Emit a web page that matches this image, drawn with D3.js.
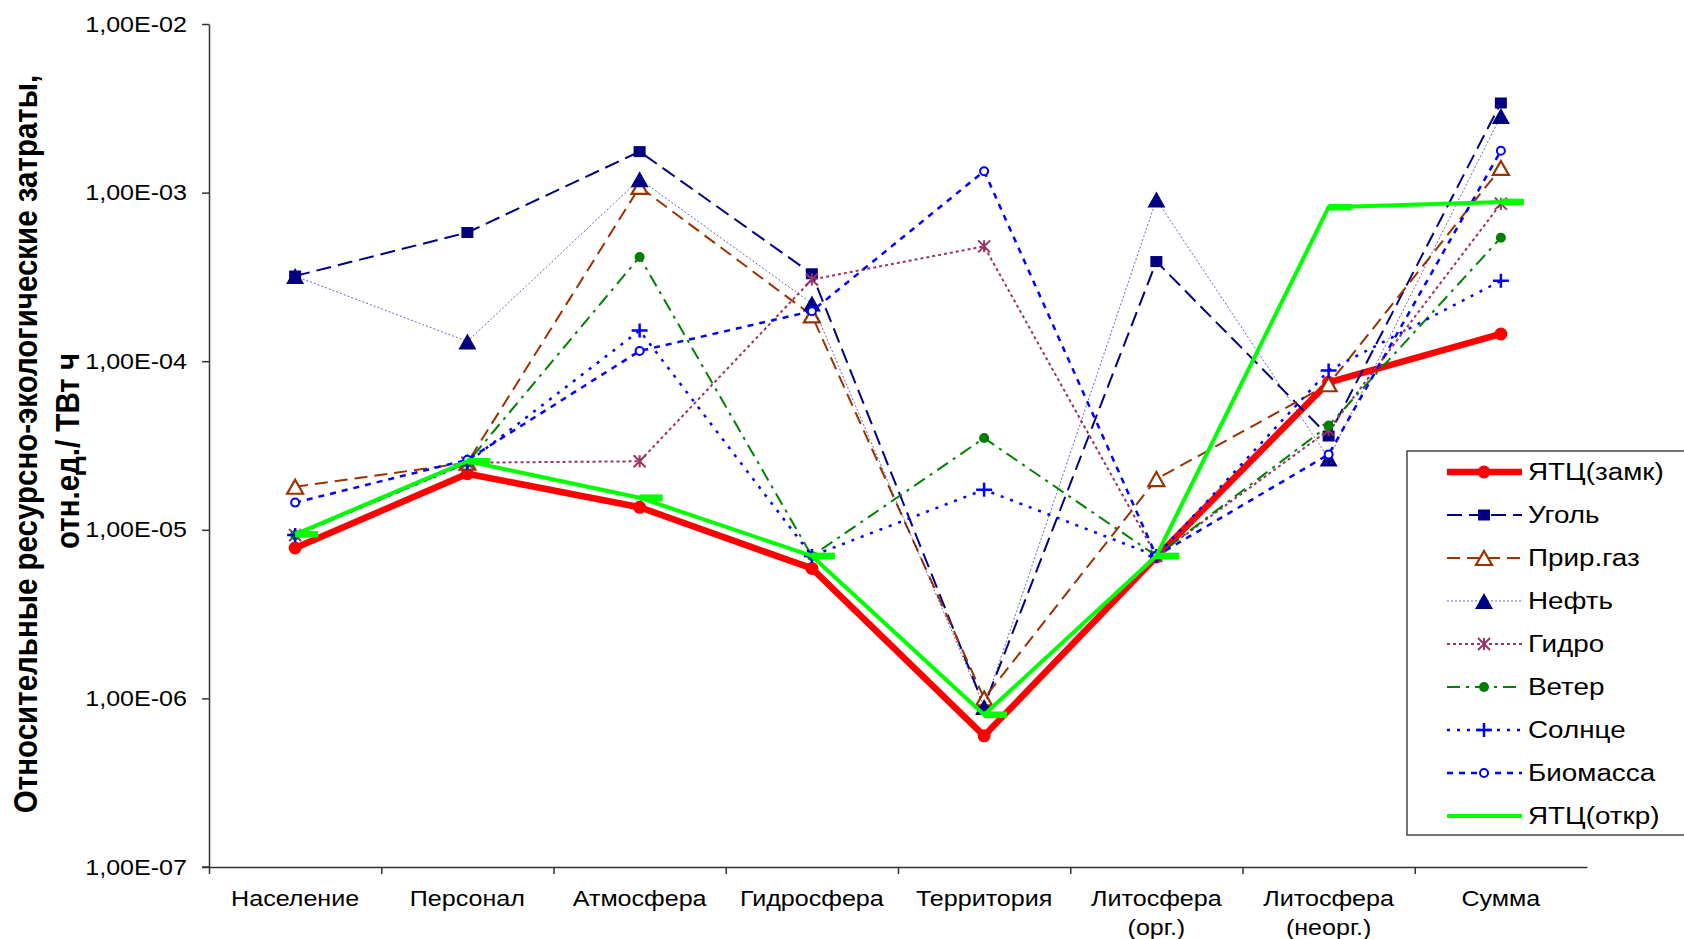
<!DOCTYPE html>
<html><head><meta charset="utf-8">
<script src="https://cdn.jsdelivr.net/npm/d3@7"></script>
<style>
html,body{margin:0;padding:0;background:#fff;}
svg{display:block;font-family:"Liberation Sans",Arial,sans-serif;}
</style></head>
<body>
<svg id="c" width="1684" height="939"></svg>
<script>
const categories = ["Население","Персонал","Атмосфера","Гидросфера","Территория","Литосфера\n(орг.)","Литосфера\n(неорг.)","Сумма"];
const ytcClosed = [7.8e-6, 2.15e-5, 1.36e-5, 5.9e-6, 6.0e-7, 6.9e-6, 7.5e-5, 1.45e-4];
const coal      = [3.2e-4, 5.8e-4, 1.75e-3, 3.3e-4, 9.0e-7, 3.9e-4, 3.6e-5, 3.4e-3];
const gas       = [1.8e-5, 2.5e-5, 1.08e-3, 1.87e-4, 1.0e-6, 2.0e-5, 7.3e-5, 1.4e-3];
const oil       = [3.2e-4, 1.31e-4, 1.2e-3, 2.2e-4, 8.9e-7, 9.1e-4, 2.65e-5, 2.85e-3];
const hydro     = [9.3e-6, 2.5e-5, 2.55e-5, 3.05e-4, 4.8e-4, 7.0e-6, 3.9e-5, 8.6e-4];
const wind      = [9.3e-6, 2.5e-5, 4.15e-4, 7.0e-6, 3.5e-5, 7.0e-6, 4.15e-5, 5.4e-4];
const sun       = [9.3e-6, 2.5e-5, 1.52e-4, 7.0e-6, 1.73e-5, 7.0e-6, 8.8e-5, 3.0e-4];
const biomass   = [1.45e-5, 2.6e-5, 1.15e-4, 1.98e-4, 1.34e-3, 7.0e-6, 2.8e-5, 1.77e-3];
const ytcOpen   = [9.4e-6, 2.55e-5, 1.55e-5, 7.0e-6, 8.0e-7, 7.0e-6, 8.2e-4, 8.8e-4];
const seriesNames = ["ЯТЦ(замк)","Уголь","Прир.газ","Нефть","Гидро","Ветер","Солнце","Биомасса","ЯТЦ(откр)"];
const yTickValues = [1e-7, 1e-6, 1e-5, 1e-4, 1e-3, 1e-2];
const yTitle1 = "Относительные ресурсно-экологические затраты,";
const yTitle2 = "отн.ед./ ТВт ч";

const SX = 1.14; // horizontal stretch of the original rendering
const L = 209, R = 1587, T = 24, B = 867;
const svg = d3.select("#c");

const x = d3.scaleBand().domain(categories).range([L, R]);
const xc = c => x(c) + x.bandwidth() / 2;
const xi = d3.scaleLinear().domain([0, categories.length]).range([L, R]);
const y = d3.scaleLog().domain([1e-7, 1e-2]).range([B, T]);

// Y axis
const yAxis = svg.append("g").attr("transform", `translate(${L},0)`)
  .call(d3.axisLeft(y).tickValues(yTickValues).tickSize(7).tickSizeOuter(0)
    .tickFormat(d => "1,00E-" + String(Math.round(-Math.log10(d))).padStart(2, "0")));
yAxis.select(".domain").attr("stroke", "#333").attr("stroke-width", 1.5);
yAxis.selectAll(".tick line").attr("stroke", "#333").attr("stroke-width", 1.5);
yAxis.selectAll(".tick text").attr("font-size", 22).attr("fill", "#000")
  .attr("font-family", "Liberation Sans, Arial, sans-serif")
  .attr("x", -22 / SX).attr("transform", `scale(${SX},1)`);

// X axis: boundary ticks
const xTicks = svg.append("g").attr("transform", `translate(0,${B})`)
  .call(d3.axisBottom(xi).tickValues(d3.range(0, categories.length)).tickSize(7).tickSizeOuter(0).tickFormat(""));
xTicks.select(".domain").attr("stroke", "#333").attr("stroke-width", 1.5);
xTicks.selectAll(".tick line").attr("stroke", "#333").attr("stroke-width", 1.5);
svg.append("line").attr("x1", L - 7).attr("x2", L).attr("y1", B).attr("y2", B).attr("stroke", "#333").attr("stroke-width", 1.5);

// X labels
const xLab = svg.append("g").attr("transform", `translate(0,${B})`)
  .call(d3.axisBottom(x).tickSize(0).tickFormat(""));
xLab.select(".domain").remove();
xLab.selectAll(".tick").each(function(d) {
  const t = d3.select(this).append("text").attr("transform", `scale(${SX},1)`)
    .attr("text-anchor", "middle").attr("font-size", 22).attr("fill", "#000");
  d.split("\n").forEach((s, i) => t.append("tspan").attr("x", 0).attr("y", 39 + i * 29).text(s));
});

// Y title
svg.append("g").attr("transform", `translate(37,444) scale(${SX},1) rotate(-90)`)
  .append("text").attr("text-anchor", "middle").attr("font-weight", "bold").attr("font-size", 29.5).text(yTitle1);
svg.append("g").attr("transform", `translate(79,451) scale(${SX},1) rotate(-90)`)
  .append("text").attr("text-anchor", "middle").attr("font-weight", "bold").attr("font-size", 29.5).text(yTitle2);

// marker drawers
function mk(kind, g, cx, cy, color) {
  switch (kind) {
    case "circle": g.append("circle").attr("cx", cx).attr("cy", cy).attr("r", 6.5).attr("fill", color); break;
    case "square": g.append("rect").attr("x", cx - 6).attr("y", cy - 5.5).attr("width", 12).attr("height", 11).attr("fill", color); break;
    case "otri": g.append("path").attr("d", `M${cx},${cy-7}L${cx+8},${cy+7}L${cx-8},${cy+7}Z`).attr("fill", "#fff").attr("stroke", color).attr("stroke-width", 2.2); break;
    case "tri": g.append("path").attr("d", `M${cx},${cy-8}L${cx+9},${cy+8}L${cx-9},${cy+8}Z`).attr("fill", color); break;
    case "star": g.append("path").attr("d", `M${cx-6},${cy-6}L${cx+6},${cy+6}M${cx-6},${cy+6}L${cx+6},${cy-6}M${cx},${cy-6}L${cx},${cy+6}`).attr("stroke", color).attr("stroke-width", 2); break;
    case "dot": g.append("circle").attr("cx", cx).attr("cy", cy).attr("r", 5).attr("fill", color); break;
    case "plus": g.append("path").attr("d", `M${cx-8},${cy}L${cx+8},${cy}M${cx},${cy-7}L${cx},${cy+7}`).attr("stroke", color).attr("stroke-width", 2.5); break;
    case "ocircle": g.append("circle").attr("cx", cx).attr("cy", cy).attr("r", 4).attr("fill", "#fff").attr("stroke", color).attr("stroke-width", 2); break;
    case "dash": g.append("rect").attr("x", cx).attr("y", cy - 3.3).attr("width", 23).attr("height", 6.6).attr("fill", color); break;
  }
}

const series = [
  {name: seriesNames[0], data: ytcClosed, color: "#FF0000", w: 6.5, dash: null, m: "circle", op: 1},
  {name: seriesNames[1], data: coal, color: "#000080", w: 2, dash: "15,7", m: "square", op: 1},
  {name: seriesNames[2], data: gas, color: "#993300", w: 2, dash: "13,7", m: "otri", op: 1},
  {name: seriesNames[3], data: oil, color: "#000080", w: 1, dash: "2,2", m: "tri", op: 0.6},
  {name: seriesNames[4], data: hydro, color: "#993366", w: 2, dash: "3,3", m: "star", op: 1},
  {name: seriesNames[5], data: wind, color: "#008000", w: 2, dash: "13,6,3,6", m: "dot", op: 1},
  {name: seriesNames[6], data: sun, color: "#0000FF", w: 2.5, dash: "3,7", m: "plus", op: 1},
  {name: seriesNames[7], data: biomass, color: "#0000FF", w: 2.5, dash: "6,6", m: "ocircle", op: 1},
  {name: seriesNames[8], data: ytcOpen, color: "#00FF00", w: 4, dash: null, m: "dash", op: 1}
];

const line = d3.line().x((d, i) => xc(categories[i])).y(d => y(d));
series.forEach(s => {
  const g = svg.append("g");
  g.append("path").attr("d", line(s.data)).attr("fill", "none").attr("stroke", s.color)
    .attr("stroke-width", s.w).attr("stroke-dasharray", s.dash).attr("stroke-opacity", s.op)
    .attr("stroke-linejoin", "round");
  s.data.forEach((v, i) => mk(s.m, g, xc(categories[i]), y(v), s.color));
});

// Legend
const lg = svg.append("g");
lg.append("rect").attr("x", 1407).attr("y", 451).attr("width", 290).attr("height", 384)
  .attr("fill", "#fff").attr("stroke", "#444").attr("stroke-width", 1.5);
series.forEach((s, i) => {
  const ry = 472 + i * 43;
  const g = lg.append("g");
  g.append("line").attr("x1", 1447).attr("x2", 1522).attr("y1", ry).attr("y2", ry)
    .attr("stroke", s.color).attr("stroke-width", s.w).attr("stroke-dasharray", s.dash).attr("stroke-opacity", s.op);
  mk(s.m === "dash" ? "none" : s.m, g, 1484, ry, s.color);
  g.append("text").attr("transform", `translate(1528,${ry}) scale(1.21,1)`).attr("dy", "0.36em")
    .attr("font-size", 23).attr("fill", "#000").text(s.name);
});
</script>
</body></html>
